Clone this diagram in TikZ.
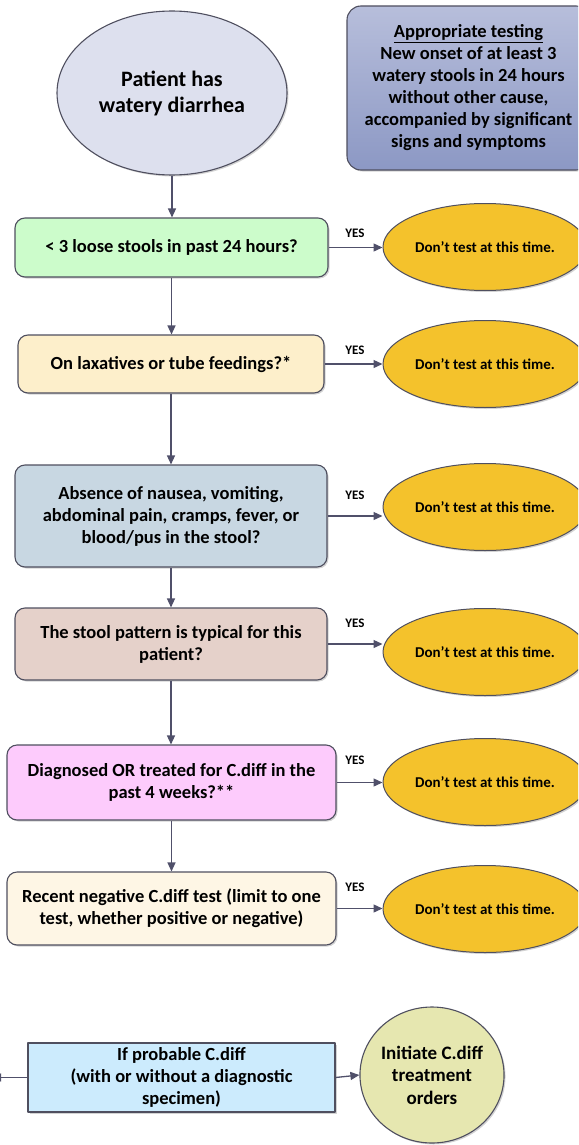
\documentclass[tikz,border=0pt]{standalone}
\usepackage{fontspec}
\setmainfont{Carlito}
\usetikzlibrary{arrows.meta,shadows,shapes.geometric}
\definecolor{edge}{HTML}{4F4F5F}
\definecolor{wire}{HTML}{50506A}
\definecolor{gold}{HTML}{F4C22C}
\definecolor{lavender}{HTML}{DDE0EE}
\definecolor{slatetop}{HTML}{B7BEDB}
\definecolor{slatebot}{HTML}{8C98C4}
\definecolor{mint}{HTML}{CCFCCB}
\definecolor{peach}{HTML}{FDEFCB}
\definecolor{steel}{HTML}{C8D7E2}
\definecolor{rose}{HTML}{E5D1CA}
\definecolor{pinkq}{HTML}{FDCBFC}
\definecolor{cream}{HTML}{FEF6E5}
\definecolor{sky}{HTML}{CCEBFD}
\definecolor{olive}{HTML}{E6E7B0}

\begin{document}
\begin{tikzpicture}[x=1pt,y=-1pt, line join=round, >={Triangle[length=9pt,width=8pt]},
	font=\bfseries\fontsize{18.5}{22}\selectfont]
	\tikzset{
		box/.style={draw=edge, line width=1.1pt, rounded corners=10pt, align=center, inner sep=0pt,
			drop shadow={shadow xshift=1.5pt, shadow yshift=-1.5pt, opacity=0.35}},
		nope/.style={ellipse, draw=edge, line width=1pt, fill=gold, inner sep=0pt,
			minimum width=204, minimum height=87, font=\bfseries\fontsize{15}{17}\selectfont,
			drop shadow={shadow xshift=1.5pt, shadow yshift=-1.5pt, opacity=0.35}},
		yes/.style={font=\bfseries\fontsize{13}{13}\selectfont},
		link/.style={draw=wire, line width=1.3pt, ->}
	}
	\useasboundingbox (0,0) rectangle (578,1145);
	\clip (0,0) rectangle (578,1145);
	
	% start and note
	\node[box, ellipse, fill=lavender, minimum width=230, minimum height=164,
		font=\bfseries\fontsize{22}{26}\selectfont] (start) at (172,93) {Patient has\\watery diarrhea};
	\node[box, rounded corners=14pt, top color=slatetop, bottom color=slatebot, minimum width=243, minimum height=164]
		(info) at (468.5,88) {\underline{Appropriate testing}\\New onset of at least 3\\watery stools in 24 hours\\without other cause,\\accompanied by significant\\signs and symptoms};
	
	% questions
	\node[box, fill=mint, minimum width=313, minimum height=59] (q1) at (171.5,247.5) {< 3 loose stools in past 24 hours?};
	\node[box, fill=peach, minimum width=306, minimum height=58] (q2) at (171,364) {On laxatives or tube feedings?*};
	\node[box, fill=steel, minimum width=312, minimum height=102] (q3) at (171,516) {Absence of nausea, vomiting,\\abdominal pain, cramps, fever, or\\blood/pus in the stool?};
	\node[box, fill=rose, minimum width=312, minimum height=72] (q4) at (171,644) {The stool pattern is typical for this\\patient?};
	\node[box, fill=pinkq, minimum width=329, minimum height=75] (q5) at (171.5,782.5) {Diagnosed OR treated for C.diff in the\\past 4 weeks?**};
	\node[box, fill=cream, minimum width=329, minimum height=73] (q6) at (171.5,908.5) {Recent negative C.diff test (limit to one\\test, whether positive or negative)};
	
	% answers
	\foreach \n/\y in {1/247,2/364,3/507,4/652,5/782,6/909}
		\node[nope] (no\n) at (485,\y) {Don't test at this time.};
	\foreach \n/\y in {1/233,2/350,3/495,4/623,5/760,6/887}
		\node[yes] (yes\n) at (355,\y) {YES};
	
	% bottom row
	\node[box, rounded corners=0pt, fill=sky, minimum width=307, minimum height=69] (probable) at (181.5,1077.5) {If probable C.diff\\(with or without a diagnostic\\specimen)};
	\node[box, ellipse, fill=olive, minimum width=138, minimum height=136,
		font=\bfseries\fontsize{19}{22.5}\selectfont] (treat) at (432,1075) {Initiate C.diff\\treatment\\orders};
	\coordinate (cut) at (-8,1077.5);
	
	% connectors
	\draw[link] (start.south) -- (start.south |- q1.north);
	\foreach \a/\b in {q1/q2,q2/q3,q3/q4,q4/q5,q5/q6}
		\draw[link] (\a.south) -- (\a.south |- \b.north);
	\foreach \n in {1,...,6}
		\draw[link] (q\n.east) -- (q\n.east -| no\n.west);
	\draw[link] (probable.east) -- (treat.west);
	\draw[link, <-] (cut) -- (probable.west);
\end{tikzpicture}
\end{document}
